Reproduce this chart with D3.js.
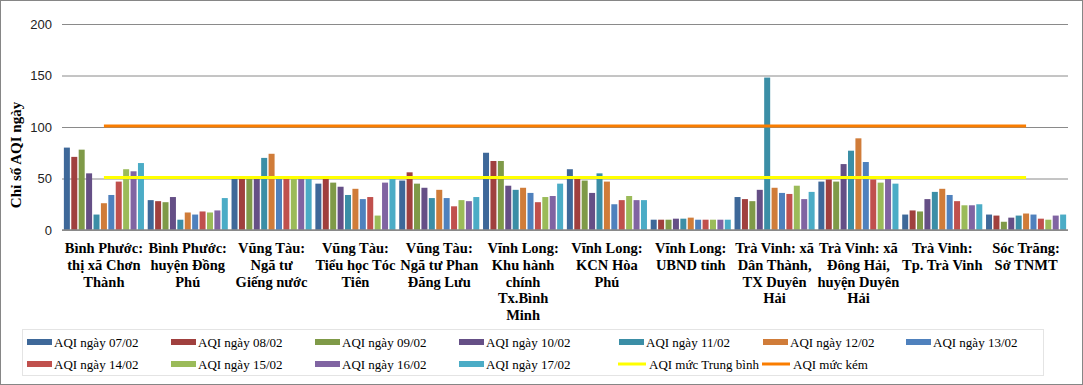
<!DOCTYPE html>
<html>
<head>
<meta charset="utf-8">
<script src="https://cdn.jsdelivr.net/npm/d3@7"></script>
<style>
  html, body { margin: 0; padding: 0; background: #fff; }
  svg { display: block; }
</style>
</head>
<body>
<div id="chart"></div>
<script>
// category labels, already split into lines as in the picture
const categories = [
  ['Bình Phước:', 'thị xã Chơn', 'Thành'],
  ['Bình Phước:', 'huyện Đồng', 'Phú'],
  ['Vũng Tàu:', 'Ngã tư', 'Giếng nước'],
  ['Vũng Tàu:', 'Tiểu học Tóc', 'Tiên'],
  ['Vũng Tàu:', 'Ngã tư Phan', 'Đăng Lưu'],
  ['Vĩnh Long:', 'Khu hành', 'chính', 'Tx.Bình', 'Minh'],
  ['Vĩnh Long:', 'KCN Hòa', 'Phú'],
  ['Vĩnh Long:', 'UBND tỉnh'],
  ['Trà Vinh: xã', 'Dân Thành,', 'TX Duyên', 'Hải'],
  ['Trà Vinh: xã', 'Đông Hải,', 'huyện Duyên', 'Hải'],
  ['Trà Vinh:', 'Tp. Trà Vinh'],
  ['Sóc Trăng:', 'Sở TNMT']
];

const seriesNames = [
  'AQI ngày 07/02', 'AQI ngày 08/02', 'AQI ngày 09/02', 'AQI ngày 10/02',
  'AQI ngày 11/02', 'AQI ngày 12/02', 'AQI ngày 13/02', 'AQI ngày 14/02',
  'AQI ngày 15/02', 'AQI ngày 16/02', 'AQI ngày 17/02'
];

// one array per category, values for 07/02 .. 17/02
const aqiBinhPhuocChonThanh = [80, 71, 78, 55, 15, 26, 34, 47, 59, 57, 65];
const aqiBinhPhuocDongPhu   = [29, 28, 27, 32, 10, 17, 15, 18, 17, 19, 31];
const aqiVungTauGiengNuoc   = [50, 50, 50, 50, 70, 74, 50, 50, 50, 50, 50];
const aqiVungTauTocTien     = [45, 50, 46, 42, 34, 40, 30, 32, 14, 46, 50];
const aqiVungTauPhanDangLuu = [48, 56, 45, 41, 31, 39, 31, 23, 29, 28, 32];
const aqiVinhLongBinhMinh   = [75, 67, 67, 43, 39, 41, 36, 27, 32, 33, 45];
const aqiVinhLongHoaPhu     = [59, 50, 48, 36, 55, 47, 25, 29, 33, 29, 29];
const aqiVinhLongUBND       = [10, 10, 10, 11, 11, 12, 10, 10, 10, 10, 10];
const aqiTraVinhDanThanh    = [32, 30, 28, 39, 148, 41, 36, 35, 43, 30, 37];
const aqiTraVinhDongHai     = [47, 49, 47, 64, 77, 89, 66, 49, 46, 50, 45];
const aqiTraVinhTP          = [15, 19, 18, 30, 37, 40, 34, 28, 24, 24, 25];
const aqiSocTrang           = [15, 14, 8, 12, 14, 16, 15, 11, 10, 14, 15];

const barValues = [
  aqiBinhPhuocChonThanh, aqiBinhPhuocDongPhu, aqiVungTauGiengNuoc, aqiVungTauTocTien,
  aqiVungTauPhanDangLuu, aqiVinhLongBinhMinh, aqiVinhLongHoaPhu, aqiVinhLongUBND,
  aqiTraVinhDanThanh, aqiTraVinhDongHai, aqiTraVinhTP, aqiSocTrang
];

// threshold line series (same value for every category)
const lineTrungBinh = [51, 51, 51, 51, 51, 51, 51, 51, 51, 51, 51, 51];
const lineKem       = [101, 101, 101, 101, 101, 101, 101, 101, 101, 101, 101, 101];
const lineNames = ['AQI mức Trung bình', 'AQI mức kém'];

const yTicks = [0, 50, 100, 150, 200];

const barColors = ['#3e6899', '#a0403e', '#7f9a48', '#654f86', '#3b8ea6', '#d07c39',
                   '#4f81bd', '#c0504d', '#9bbb59', '#8064a2', '#4bacc6'];
const lineColors = ['#ffff00', '#fa7d00'];

const W = 1083, H = 385;
const plot = { left: 62, right: 1068, top: 24, bottom: 230 };

const svg = d3.select('#chart').append('svg')
  .attr('width', W).attr('height', H);

svg.append('rect')
  .attr('x', 0.5).attr('y', 0.5).attr('width', W - 1).attr('height', H - 1)
  .attr('fill', '#fff').attr('stroke', '#868686').attr('stroke-width', 1);

const catIdx = d3.range(categories.length);
const x0 = d3.scaleBand().domain(catIdx).range([plot.left, plot.right]).padding(0);
const x1 = d3.scaleBand().domain(d3.range(seriesNames.length))
  .range([1.5, x0.bandwidth() - 1.5]).paddingInner(0.19).paddingOuter(0.05);
const y = d3.scaleLinear().domain([0, 200]).range([plot.bottom, plot.top]);

// gridlines + y labels
const yAxis = svg.append('g').attr('transform', `translate(${plot.left},0)`)
  .call(d3.axisLeft(y).tickValues(yTicks).tickSize(-(plot.right - plot.left)).tickPadding(10));
yAxis.select('.domain').remove();
yAxis.selectAll('.tick line').attr('stroke', '#8a8a8a').attr('stroke-width', 1);
yAxis.selectAll('.tick text')
  .attr('font-family', '"Liberation Sans", Arial, sans-serif')
  .attr('font-size', '13px').attr('fill', '#222');

svg.append('text')
  .attr('transform', `translate(21,${(plot.top + plot.bottom) / 2 + 28}) rotate(-90)`)
  .attr('text-anchor', 'middle')
  .attr('font-family', '"Liberation Serif", "Times New Roman", serif')
  .attr('font-size', '15px').attr('font-weight', 'bold').attr('fill', '#000')
  .text('Chỉ số AQI ngày');

// bars
const groups = svg.append('g').selectAll('g')
  .data(barValues).join('g')
  .attr('transform', (d, i) => `translate(${x0(i)},0)`);

groups.selectAll('rect')
  .data(d => d).join('rect')
  .attr('x', (d, j) => x1(j))
  .attr('y', d => y(d))
  .attr('width', x1.bandwidth())
  .attr('height', d => y(0) - y(d))
  .attr('fill', (d, j) => barColors[j]);

// category axis labels
const xLab = svg.append('g');
categories.forEach((lines, i) => {
  const t = xLab.append('text')
    .attr('x', x0(i) + x0.bandwidth() / 2)
    .attr('y', 253)
    .attr('text-anchor', 'middle')
    .attr('font-family', '"Liberation Serif", "Times New Roman", serif')
    .attr('font-size', '14.5px').attr('font-weight', 'bold').attr('fill', '#000');
  lines.forEach((ln, k) => {
    t.append('tspan').attr('x', x0(i) + x0.bandwidth() / 2)
      .attr('dy', k === 0 ? 0 : 16.8).text(ln);
  });
});

// threshold lines through category centers
const line = d3.line()
  .x((d, i) => x0(i) + x0.bandwidth() / 2)
  .y(d => y(d));
[lineTrungBinh, lineKem].forEach((vals, k) => {
  svg.append('path').datum(vals)
    .attr('d', line)
    .attr('fill', 'none')
    .attr('stroke', lineColors[k])
    .attr('stroke-width', 3);
});

// x axis baseline
svg.append('line')
  .attr('x1', plot.left).attr('x2', plot.right)
  .attr('y1', y(0)).attr('y2', y(0))
  .attr('stroke', '#8a8a8a').attr('stroke-width', 1.5);

// legend
const legend = svg.append('g');
legend.append('rect')
  .attr('x', 22.5).attr('y', 329.5).attr('width', 1021).attr('height', 46)
  .attr('fill', 'none').attr('stroke', '#c8c8c8').attr('stroke-dasharray', '1,1');

const legendItems = seriesNames.map((n, j) => ({ name: n, color: barColors[j], type: 'bar' }))
  .concat(lineNames.map((n, k) => ({ name: n, color: lineColors[k], type: 'line' })));

const legendCols = [27, 171, 315, 459, 619, 763, 906];

legendItems.forEach((item, i) => {
  const col = i % 7, row = Math.floor(i / 7);
  const lx = legendCols[col], ly = 342 + row * 22;
  const sw = item.type === 'bar' ? 25 : 28;
  if (item.type === 'bar') {
    legend.append('rect').attr('x', lx).attr('y', ly - 3)
      .attr('width', sw).attr('height', 6).attr('fill', item.color);
  } else {
    legend.append('line').attr('x1', lx - 1).attr('x2', lx - 1 + sw)
      .attr('y1', ly).attr('y2', ly)
      .attr('stroke', item.color).attr('stroke-width', 3);
  }
  legend.append('text')
    .attr('x', lx + sw + 2).attr('y', ly + 4.5)
    .attr('font-family', '"Liberation Serif", "Times New Roman", serif')
    .attr('font-size', '13px').attr('fill', '#000')
    .text(item.name);
});
</script>
</body>
</html>
